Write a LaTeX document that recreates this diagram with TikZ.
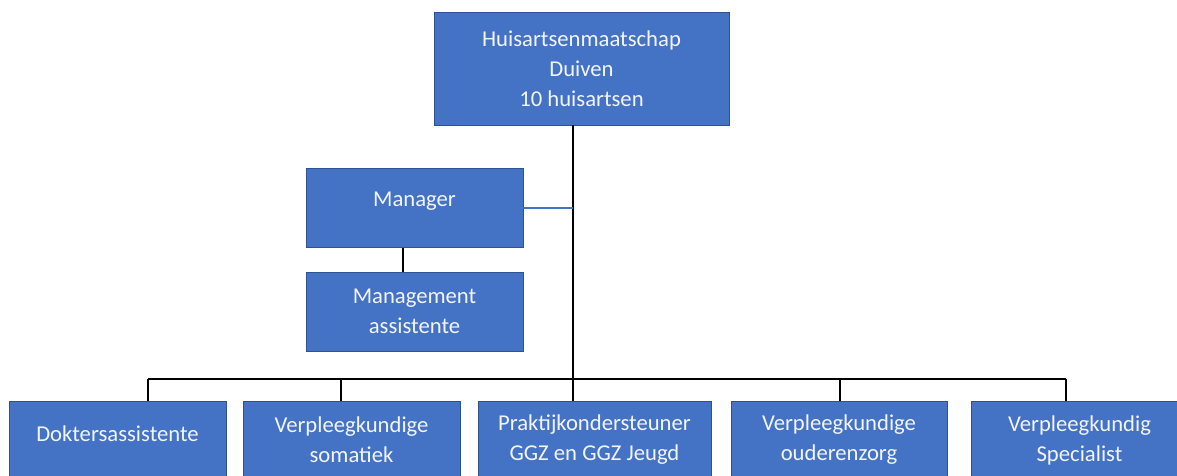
\documentclass[tikz,border=0pt]{standalone}
\usepackage{fontspec}
\setmainfont{Carlito}
\usetikzlibrary{positioning}
\definecolor{boxblue}{HTML}{4472C4}
\definecolor{boxline}{HTML}{2F528F}
\definecolor{boxtext}{HTML}{F2F5FB}
\tikzstyle{block} = [rectangle, draw=boxline, line width=0.6pt, fill=boxblue,
    text=boxtext, align=center, inner sep=0pt,
    font=\fontsize{17}{22.5}\selectfont]
\tikzstyle{line} = [draw, black, line width=1.1pt]

\begin{document}
\begin{tikzpicture}[x=0.75pt, y=-0.75pt]
    \useasboundingbox (0,0) rectangle (1177,475);
    \clip (0,0) rectangle (1177,475);

    % top of the organisation
    \node [block, minimum width=221.25pt, minimum height=84.75pt] (top) at (581.5,68.5)
        {Huisartsenmaatschap\\Duiven\\10 huisartsen};

    % staff on the side
    \node [block, minimum width=162.75pt, minimum height=59.25pt,
        text height=10pt, text depth=12pt] (mgr) at (414.5,208) {Manager};
    \node [block, minimum width=162.75pt, minimum height=59.25pt] (asst) at (414.5,311.5)
        {Management\\assistente};

    % bottom row
    \node [block, minimum width=162.75pt, minimum height=58.5pt,
        text height=12.7pt, text depth=10.5pt] (doc) at (117.5,440) {Doktersassistente};
    \node [block, minimum width=162.75pt, minimum height=58.5pt] (vsom) at (351.5,440) {Verpleegkundige\\somatiek};
    \node [block, minimum width=174.75pt, minimum height=58.5pt] (poh) at (594.5,440) {Praktijkondersteuner\\GGZ en GGZ Jeugd};
    \node [block, minimum width=162pt, minimum height=58.5pt] (vouder) at (839,440) {Verpleegkundige\\ouderenzorg};
    \node [block, minimum width=162.75pt, minimum height=58.5pt] (vspec) at (1079.5,440) {Verpleegkundig\\Specialist};

    \coordinate (bus) at (573,379);
    \coordinate (t1) at ([xshift=22.9pt]doc.north);
    \coordinate (t2) at ([xshift=-7.9pt]vsom.north);
    \coordinate (t3) at ([xshift=-16.1pt]poh.north);
    \coordinate (t4) at ([xshift=0.8pt]vouder.north);
    \coordinate (t5) at ([xshift=-10.1pt]vspec.north);
    \coordinate (ma) at ([xshift=-8.6pt]mgr.south);

    \path [line] (top.south -| bus) -- (bus);
    \path [line] (t1 |- bus) -- (t5 |- bus);
    \foreach \i in {1,...,5}
        \path [line] (t\i |- bus) -- (t\i);
    \path [line] (ma) -- (ma |- asst.north);
    \path [draw, boxblue, line width=0.9pt] (mgr.east) -- (mgr.east -| bus);

\end{tikzpicture}
\end{document}
